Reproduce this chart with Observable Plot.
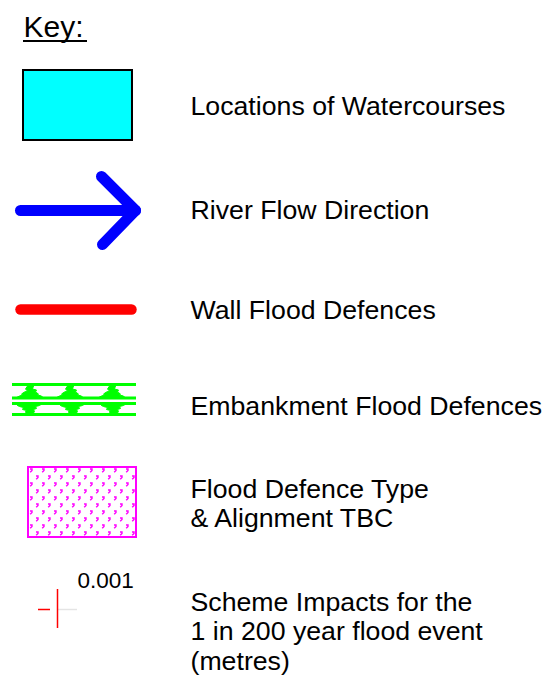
<!DOCTYPE html>
<html><head><meta charset="utf-8">
<script src="https://cdn.jsdelivr.net/npm/d3@7"></script>
<script src="https://cdn.jsdelivr.net/npm/@observablehq/plot@0.6"></script>
<style>html,body{margin:0;padding:0;background:#fff;} #chart svg{display:block;background:#fff}</style>
</head><body><div id="chart"></div>
<script>
// ---- content ----
const keyTitle = ["Key:"];
const keyItems = ["watercourse", "flow", "wall", "embankment", "tbc", "impact"];
const keyLabels = [
  "Locations of Watercourses",
  "River Flow Direction",
  "Wall Flood Defences",
  "Embankment Flood Defences",
  "Flood Defence Type\n& Alignment TBC",
  "Scheme Impacts for the\n1 in 200 year flood event\n(metres)"
];
const impactValue = ["0.001"];

// ---- layout (pixels) ----
const W = 556, H = 685;
const FONT = "'Liberation Sans', Arial, Helvetica, sans-serif";
const FS = 26.7;
const LINE = 30;
const labelX = 190;
const labelBaseline = [114, 218, 318, 414, 497, 610];
const symbolCenter = [105, 210, 309, 399, 502, 609];
const cy = Object.fromEntries(keyItems.map((k, i) => [k, symbolCenter[i]]));

// symbol geometry (derived from layout)
const rects = [
  {x1: 23, x2: 132, y1: cy.watercourse - 35, y2: cy.watercourse + 35}
];
const arrowPaths = [
  {id: "shaft", pts: [[20, cy.flow], [135, cy.flow]]},
  {id: "head", pts: [[101, cy.flow - 34], [135, cy.flow], [102, cy.flow + 34]]}
].flatMap(p => p.pts.map(([x, y]) => ({id: p.id, x, y})));

const wall = [{x1: 20.5, x2: 131.5, y: cy.wall}];

const embY = [cy.embankment - 15, cy.embankment - 1.5, cy.embankment + 4, cy.embankment + 15];
const embLines = embY.map(y => ({x1: 12, x2: 136, y}));
const upperTpl = [[-15,0],[-11,-2],[-8,-3],[-9,-4],[-6,-6],[-3,-7],[-5,-9],[-3,-12],[3,-12],[2,-9],[6,-8],[5,-6],[8,-4],[7,-3],[11,-2],[13,0]];
const lowerTpl = [[-14,0],[13,0],[10,2],[6,3],[7,5],[4,6],[5,8],[3,11],[-3,11],[-4,8],[-3,7],[-7,6],[-6,4],[-10,3],[-12,2]];
const upperCx = [30, 70, 112], lowerCx = [29, 72, 113];
const blobs = [
  ...upperCx.flatMap((c, j) => upperTpl.map(([dx, dy]) => ({id: "u" + j, x: c + dx, y: embY[1] + dy}))),
  ...lowerCx.flatMap((c, j) => lowerTpl.map(([dx, dy]) => ({id: "l" + j, x: c + dx, y: embY[2] + dy})))
];

const tbcRect = [{x1: 28, x2: 136, y1: cy.tbc - 35, y2: cy.tbc + 35}];

const impactV = [{x: 57, y1: cy.impact - 20, y2: cy.impact + 19}];
const impactH = [
  {x1: 38, x2: 50, y: cy.impact, c: "#ff0000"},
  {x1: 57, x2: 77, y: cy.impact, c: "#e4e4e4"}
];

const chart = Plot.plot({
  width: W, height: H,
  margin: 0,
  x: {domain: [0, W], range: [0, W], axis: null},
  y: {domain: [0, H], range: [0, H], axis: null},
  style: {background: "#fff", fontFamily: FONT},
  marks: [
    // title
    Plot.text(keyTitle, {x: 23, y: 36, text: d => d, textAnchor: "start", lineAnchor: "bottom", fontSize: 30, fill: "#000", fontFamily: FONT}),
    Plot.ruleY([40.5], {x1: 23, x2: 87, stroke: "#000", strokeWidth: 2}),
    // watercourse
    Plot.rect(rects, {x1: "x1", x2: "x2", y1: "y1", y2: "y2", fill: "#00ffff", stroke: "#000", strokeWidth: 2}),
    // flow arrow
    Plot.line(arrowPaths, {x: "x", y: "y", z: "id", stroke: "#0000ff", strokeWidth: 11, strokeLinecap: "round", strokeLinejoin: "round", curve: "linear"}),
    // wall
    Plot.ruleY(wall, {y: "y", x1: "x1", x2: "x2", stroke: "#ff0000", strokeWidth: 10.5, strokeLinecap: "round"}),
    // embankment
    Plot.ruleY(embLines, {y: "y", x1: "x1", x2: "x2", stroke: "#00ff00", strokeWidth: 3}),
    Plot.line(blobs, {x: "x", y: "y", z: "id", fill: "#00ff00", stroke: "#00ff00", strokeWidth: 1, curve: "linear"}),
    // TBC
    Plot.rect(tbcRect, {x1: "x1", x2: "x2", y1: "y1", y2: "y2", fill: "url(#tbcHatch)", stroke: "#ff00ff", strokeWidth: 2}),
    // impact
    Plot.ruleY(impactH, {y: "y", x1: "x1", x2: "x2", stroke: "c", strokeWidth: 1.5}),
    Plot.ruleX(impactV, {x: "x", y1: "y1", y2: "y2", stroke: "#ff0000", strokeWidth: 1.5}),
    Plot.text(impactValue, {x: 77, y: cy.impact - 22, text: d => d, textAnchor: "start", lineAnchor: "bottom", fontSize: 22.5, fill: "#000", fontFamily: FONT}),
    // labels (Plot offsets the first line by 0.71 * lineHeight em for lineAnchor "top")
    Plot.text(keyLabels, {x: labelX, y: (d, i) => labelBaseline[i] - 0.71 * LINE, text: d => d, textAnchor: "start", lineAnchor: "top", fontSize: FS, lineHeight: LINE / FS, fill: "#000", fontFamily: FONT})
  ]
});

// hatch pattern for the "TBC" symbol
const defs = d3.select(chart).insert("defs", ":first-child");
const pat = defs.append("pattern").attr("id", "tbcHatch").attr("patternUnits", "userSpaceOnUse")
  .attr("x", 28).attr("y", cy.tbc - 35).attr("width", 12).attr("height", 14);
pat.append("rect").attr("width", 12).attr("height", 14).attr("fill", "#fff");
[[4, 3], [10, 10]].forEach(([x, y]) => {
  pat.append("path").attr("d", `M${x - 2},${y - 1} h2 v1.5 l-1.8,1.8`)
    .attr("stroke", "#ff00ff").attr("stroke-width", 1.4).attr("fill", "none");
});

document.getElementById("chart").appendChild(chart);
</script>
</body></html>
